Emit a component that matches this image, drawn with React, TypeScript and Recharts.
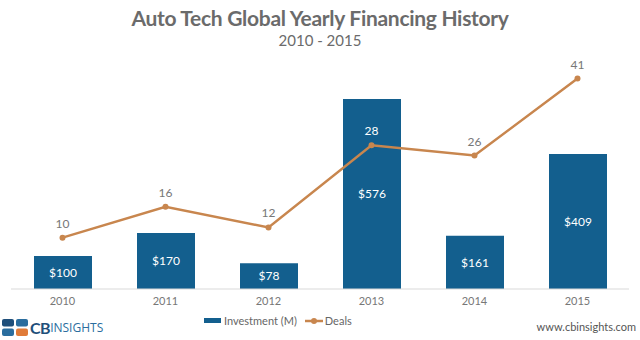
import React from 'react';
import { ComposedChart, Bar, Line, XAxis, YAxis, LabelList } from 'recharts';

const years = ['2010', '2011', '2012', '2013', '2014', '2015'];
const investment = [100, 170, 78, 576, 161, 409];
const deals = [10, 16, 12, 28, 26, 41];

const INV_MAX = 700;
const DEALS_MAX = 45;

const BLUE = '#135f8e';
const ORANGE = '#c8864e';
const FONT = 'Lato, "Open Sans", sans-serif';

const data = years.map((year, i) => ({
  year,
  investment: investment[i],
  deals: deals[i]
}));

// deals label sits on the bar when the bar reaches above it
const DealsLabel = (props: any) => {
  const { x, y, value, index } = props;
  const overBar = deals[index] / DEALS_MAX + 0.07 < investment[index] / INV_MAX;
  return (
    <text
      x={x}
      y={y - 10}
      textAnchor="middle"
      fontSize={12}
      fontFamily={FONT}
      fill={overBar ? '#ffffff' : '#777777'}
    >
      {value}
    </text>
  );
};

const Logo = () => (
  <svg width={26} height={17} style={{ display: 'block' }}>
    <rect x={0} y={0} width={12} height={7.5} rx={2} fill="#1f4f7a" />
    <rect x={14} y={0} width={12} height={7.5} rx={2} fill="#2a6d9e" />
    <rect x={0} y={9.5} width={12} height={7.5} rx={2} fill="#2a6d9e" />
    <rect x={14} y={9.5} width={12} height={7.5} rx={2} fill="#e07b39" />
  </svg>
);

export default function App() {
  return (
    <div
      style={{
        position: 'absolute',
        left: 0,
        top: 0,
        width: 640,
        height: 340,
        background: '#fff',
        fontFamily: FONT
      }}
    >
      <div
        style={{
          position: 'absolute',
          top: 5,
          width: 640,
          textAlign: 'center',
          fontSize: 21,
          fontWeight: 700,
          color: '#6b6b6b',
          letterSpacing: -0.3
        }}
      >
        Auto Tech Global Yearly Financing History
      </div>
      <div
        style={{
          position: 'absolute',
          top: 31,
          width: 640,
          textAlign: 'center',
          fontSize: 15,
          color: '#6b6b6b'
        }}
      >
        2010 - 2015
      </div>

      <div style={{ position: 'absolute', left: 0, top: 0 }}>
        <ComposedChart
          width={640}
          height={340}
          data={data}
          margin={{ top: 58, right: 11, bottom: 21, left: 11 }}
        >
          <XAxis
            dataKey="year"
            height={30}
            axisLine={{ stroke: '#d9d9d9' }}
            tickLine={false}
            tick={{ fontSize: 11, fill: '#777', fontFamily: FONT }}
          />
          <YAxis yAxisId="inv" hide domain={[0, INV_MAX]} />
          <YAxis yAxisId="deals" hide orientation="right" domain={[0, DEALS_MAX]} />
          <Bar
            yAxisId="inv"
            dataKey="investment"
            fill={BLUE}
            barSize={58}
            isAnimationActive={false}
          >
            <LabelList
              dataKey="investment"
              position="center"
              formatter={(v: any) => `$${v}`}
              style={{ fill: '#fff', fontSize: 12, fontFamily: FONT }}
            />
          </Bar>
          <Line
            yAxisId="deals"
            dataKey="deals"
            stroke={ORANGE}
            strokeWidth={2.5}
            dot={{ r: 3, fill: ORANGE, stroke: ORANGE, strokeWidth: 0 }}
            activeDot={false}
            isAnimationActive={false}
          >
            <LabelList dataKey="deals" content={<DealsLabel />} />
          </Line>
        </ComposedChart>
      </div>

      {/* legend */}
      <div
        style={{
          position: 'absolute',
          top: 314,
          left: 204,
          display: 'flex',
          alignItems: 'center',
          fontSize: 11,
          color: '#666'
        }}
      >
        <div style={{ width: 17, height: 5, background: BLUE, marginRight: 3 }} />
        <span>Investment (M)</span>
        <svg width={18} height={10} style={{ marginLeft: 8, marginRight: 2 }}>
          <line x1={0} y1={5} x2={18} y2={5} stroke={ORANGE} strokeWidth={2.5} />
          <circle cx={9} cy={5} r={3} fill={ORANGE} />
        </svg>
        <span>Deals</span>
      </div>

      {/* footer */}
      <div
        style={{
          position: 'absolute',
          left: 2,
          top: 318,
          display: 'flex',
          alignItems: 'center'
        }}
      >
        <Logo />
        <span style={{ marginLeft: 2, fontSize: 16, fontWeight: 700, color: '#1f4f7a', letterSpacing: -0.5 }}>
          CB
        </span>
        <span style={{ fontSize: 12, color: '#2a6d9e', fontFamily: '"Open Sans", sans-serif' }}>
          INSIGHTS
        </span>
      </div>
      <div
        style={{
          position: 'absolute',
          right: 4,
          top: 320,
          fontSize: 11,
          color: '#555'
        }}
      >
        www.cbinsights.com
      </div>
    </div>
  );
}
